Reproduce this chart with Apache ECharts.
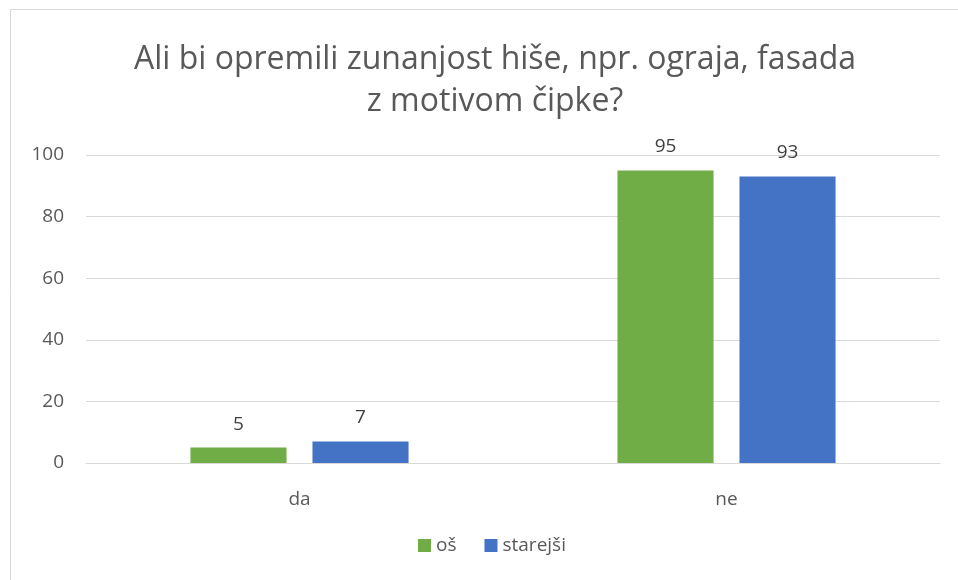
<!DOCTYPE html>
<html><head><meta charset="utf-8">
<script src="https://cdn.jsdelivr.net/npm/echarts@6/dist/echarts.min.js"></script>
<style>html,body{margin:0;padding:0;background:#fff}#c{width:958px;height:580px}</style>
</head><body><div id="c"></div>
<script>
const categories = ['da', 'ne'];
const seriesNames = ['oš', 'starejši'];
const osValues = [5, 95];
const starejsiValues = [7, 93];
const yTicks = [0, 20, 40, 60, 80, 100];

const FONT = '"Open Sans", sans-serif';
const chart = echarts.init(document.getElementById('c'));
chart.setOption({
  animation: false,
  backgroundColor: '#fff',
  graphic: [{type: 'rect', shape: {x: 10.5, y: 9.5, width: 960, height: 600}, style: {fill: 'none', stroke: '#d9d9d9', lineWidth: 1}}],
  title: {
    text: 'Ali bi opremili zunanjost hiše, npr. ograja, fasada\nz motivom čipke?',
    left: 490, top: 34, textAlign: 'center',
    textStyle: {fontFamily: FONT, fontSize: 32, fontWeight: 'normal', color: '#595959', lineHeight: 42}
  },
  legend: {
    bottom: 20, left: 413, itemWidth: 13, itemHeight: 13, itemGap: 28,
    icon: 'rect',
    textStyle: {fontFamily: FONT, fontSize: 19, color: '#595959'},
    data: seriesNames
  },
  grid: {left: 86, right: 18, top: 155, bottom: 117, containLabel: false},
  xAxis: {
    type: 'category', data: categories,
    axisLine: {lineStyle: {color: '#d9d9d9'}}, axisTick: {show: false},
    axisLabel: {fontFamily: FONT, fontSize: 19, color: '#595959', margin: 27}
  },
  yAxis: {
    type: 'value', min: 0, max: 100, interval: 20,
    axisLine: {show: false}, axisTick: {show: false},
    splitLine: {lineStyle: {color: '#d9d9d9'}},
    axisLabel: {fontFamily: FONT, fontSize: 19, color: '#595959', margin: 22,
      formatter: v => yTicks.includes(v) ? String(v) : ''}
  },
  series: [
    {name: seriesNames[0], type: 'bar', data: osValues, barWidth: '22.5%', barGap: '27%',
     itemStyle: {color: '#70ad47'},
     label: {show: true, position: 'top', distance: 14, fontFamily: FONT, fontSize: 19, color: '#404040'}},
    {name: seriesNames[1], type: 'bar', data: starejsiValues, barWidth: '22.5%',
     itemStyle: {color: '#4472c4'},
     label: {show: true, position: 'top', distance: 14, fontFamily: FONT, fontSize: 19, color: '#404040'}}
  ]
});
</script></body></html>
